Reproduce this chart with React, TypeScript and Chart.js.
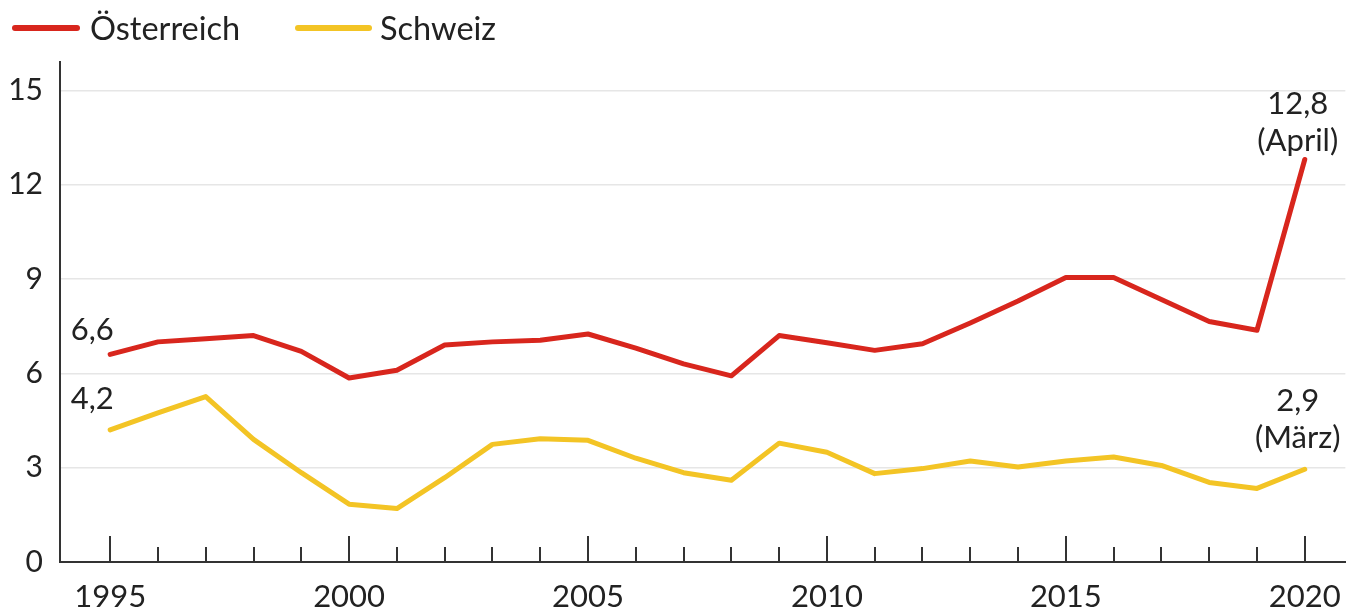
import React, { useEffect, useRef } from 'react';
import { Chart, registerables } from 'chart.js';

Chart.register(...registerables);

const years = [1995, 1996, 1997, 1998, 1999, 2000, 2001, 2002, 2003, 2004, 2005, 2006, 2007, 2008, 2009, 2010, 2011, 2012, 2013, 2014, 2015, 2016, 2017, 2018, 2019, 2020];
const austria = [6.6, 7.0, 7.1, 7.2, 6.7, 5.85, 6.1, 6.9, 7.0, 7.05, 7.25, 6.8, 6.3, 5.92, 7.2, 6.97, 6.73, 6.94, 7.6, 8.3, 9.05, 9.05, 8.35, 7.65, 7.37, 12.8];
const switzerland = [4.2, 4.74, 5.26, 3.9, 2.84, 1.84, 1.7, 2.68, 3.74, 3.92, 3.87, 3.3, 2.84, 2.6, 3.78, 3.49, 2.81, 2.97, 3.21, 3.02, 3.21, 3.34, 3.07, 2.53, 2.34, 2.95];
const seriesNames = ['Österreich', 'Schweiz'];
const seriesColors = ['#d8261d', '#f3c425'];
const xLabelYears = [1995, 2000, 2005, 2010, 2015, 2020];
const yTicks = [0, 3, 6, 9, 12, 15];
const annotations = [
  { series: 0, index: 0, lines: ['6,6'] },
  { series: 1, index: 0, lines: ['4,2'] },
  { series: 0, index: 25, lines: ['12,8', '(April)'] },
  { series: 1, index: 25, lines: ['2,9', '(März)'] },
];

const FONT = 'Lato, "Noto Sans", sans-serif';

const overlayPlugin = {
  id: 'overlay',
  afterDraw(chart: any) {
    const { ctx } = chart;
    const xs = chart.scales.x;
    const ys = chart.scales.y;
    const axisY = ys.getPixelForValue(0);
    ctx.save();
    // year tick marks pointing up
    ctx.strokeStyle = '#333';
    ctx.lineWidth = 2;
    years.forEach((yr) => {
      const px = Math.round(xs.getPixelForValue(yr));
      const len = yr % 5 === 0 ? 26 : 15;
      ctx.beginPath();
      ctx.moveTo(px, axisY);
      ctx.lineTo(px, axisY - len);
      ctx.stroke();
    });
    // annotations
    ctx.fillStyle = '#222';
    ctx.font = '31px ' + FONT;
    ctx.textAlign = 'center';
    ctx.textBaseline = 'middle';
    annotations.forEach((a) => {
      const data = a.series === 0 ? austria : switzerland;
      const px = xs.getPixelForValue(years[a.index]);
      const py = ys.getPixelForValue(data[a.index]);
      if (a.index === 0) {
        const off = a.series === 0 ? 24 : 31;
        ctx.fillText(a.lines[0], px - 18, py - off);
      } else {
        const first = a.series === 0 ? 55 : 68;
        a.lines.forEach((t, i) => {
          ctx.fillText(t, px - 7, py - first + i * 37);
        });
      }
    });
    ctx.restore();
  },
};

export default function App() {
  const ref = useRef<HTMLCanvasElement | null>(null);

  useEffect(() => {
    document.body.style.margin = '0';
    if (!ref.current) return;
    const chart = new Chart(ref.current, {
      type: 'line',
      data: {
        datasets: [austria, switzerland].map((arr, si) => ({
          label: seriesNames[si],
          data: years.map((yr, i) => ({ x: yr, y: arr[i] })),
          borderColor: seriesColors[si],
          backgroundColor: seriesColors[si],
          borderWidth: 5,
          pointRadius: 0,
          tension: 0,
          borderJoinStyle: 'round' as const,
          borderCapStyle: 'round' as const,
        })),
      },
      options: {
        animation: false,
        responsive: false,
        layout: { padding: { top: 62, right: 9, left: 0, bottom: 0 } },
        plugins: { legend: { display: false }, tooltip: { enabled: false } },
        scales: {
          x: {
            type: 'linear',
            min: 1993.95,
            max: 2020.85,
            grid: { display: false, drawTicks: false },
            border: { display: true, color: '#333', width: 2 },
            ticks: {
              color: '#222',
              padding: 16,
              font: { family: FONT, size: 31 },
              callback: (v: any) => String(v),
            },
            afterBuildTicks: (s: any) => {
              s.ticks = xLabelYears.map((v) => ({ value: v }));
            },
            afterFit: (s: any) => {
              s.height = 52;
            },
          },
          y: {
            min: 0,
            max: 15.9,
            grid: { color: '#e6e6e6', lineWidth: 1.5, drawTicks: false },
            border: { display: true, color: '#333', width: 2 },
            ticks: {
              color: '#222',
              padding: 17,
              font: { family: FONT, size: 30 },
              callback: (v: any) => String(v),
            },
            afterBuildTicks: (s: any) => {
              s.ticks = yTicks.map((v) => ({ value: v }));
            },
            afterFit: (s: any) => {
              s.width = 60;
            },
          },
        },
      },
      plugins: [overlayPlugin],
    });
    return () => chart.destroy();
  }, []);

  const legendItem = (i: number, lineLeft: number, lineWidth: number, textLeft: number) => (
    <React.Fragment key={i}>
      <div
        style={{
          position: 'absolute',
          left: lineLeft,
          top: 25,
          width: lineWidth,
          height: 6,
          borderRadius: 3,
          background: seriesColors[i],
        }}
      />
      <div
        style={{
          position: 'absolute',
          left: textLeft,
          top: 8,
          height: 40,
          lineHeight: '40px',
          fontFamily: FONT,
          fontSize: 32.5,
          color: '#222',
          whiteSpace: 'nowrap',
        }}
      >
        {seriesNames[i]}
      </div>
    </React.Fragment>
  );

  return (
    <div style={{ position: 'relative', width: 1357, height: 614, background: '#fff' }}>
      <canvas ref={ref} width={1357} height={614} style={{ display: 'block' }} />
      {legendItem(0, 12, 68, 90)}
      {legendItem(1, 295, 77, 380)}
    </div>
  );
}
